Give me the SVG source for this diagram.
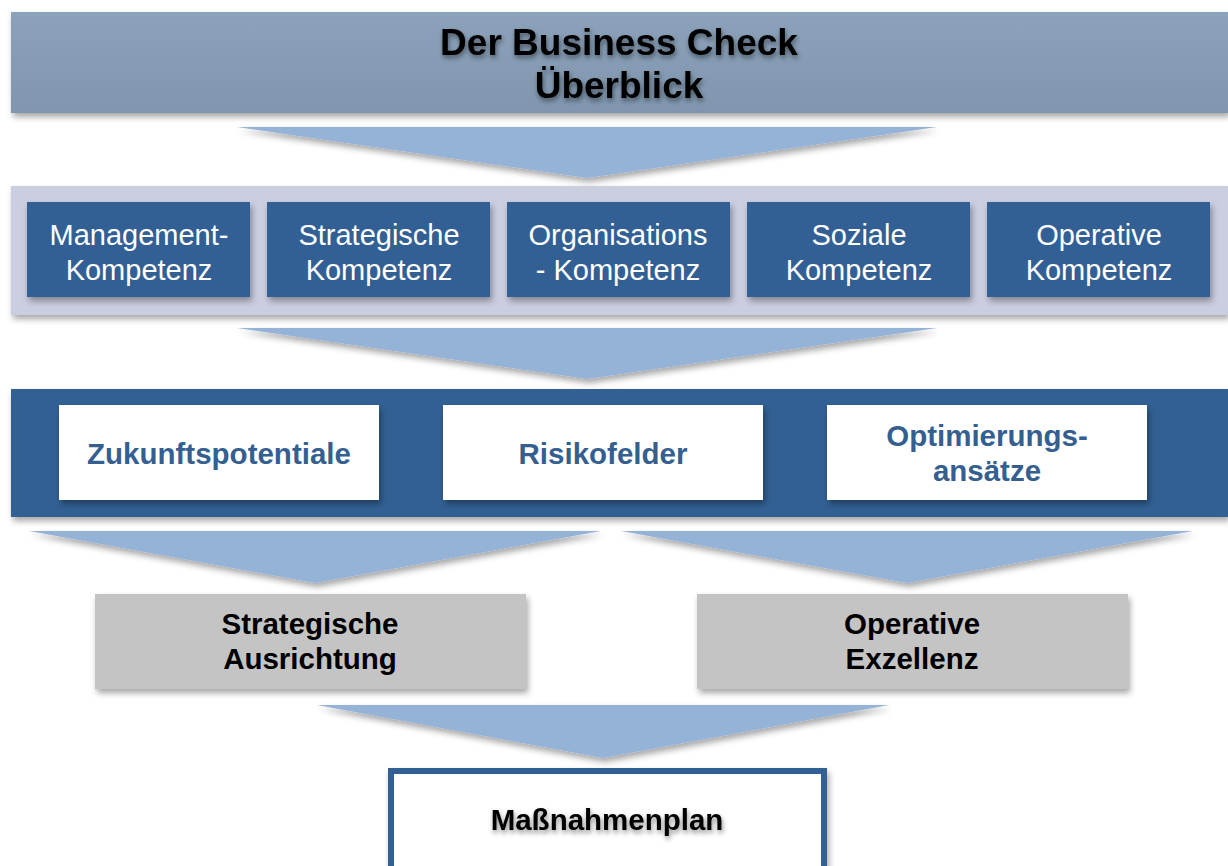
<svg xmlns="http://www.w3.org/2000/svg" width="1228" height="866" viewBox="0 0 1228 866">
<defs>
<filter id="sh" x="-5%" y="-20%" width="110%" height="150%">
<feDropShadow dx="2" dy="4" stdDeviation="3" flood-color="#000" flood-opacity="0.35"/>
</filter>
<filter id="tsh" x="-10%" y="-30%" width="120%" height="170%">
<feDropShadow dx="1" dy="3" stdDeviation="2.5" flood-color="#000" flood-opacity="0.45"/>
</filter>
<linearGradient id="gTop" x1="0" y1="0" x2="0" y2="1">
<stop offset="0" stop-color="#8ca2ba"/>
<stop offset="1" stop-color="#7f96ae"/>
</linearGradient>
<style>
.t{font-family:"Liberation Sans",Arial,sans-serif;text-anchor:middle}
.w{fill:#ffffff;font-size:29px}
.b{font-weight:bold;font-size:29.5px}
.blue{fill:#355f91}
.blk{fill:#000000}
.arr{fill:#95b3d7}
.kb{fill:#336194}
</style>
</defs>

<g id="connectors">
<polygon class="arr" filter="url(#sh)" points="237,127 937,127 587,178"/>
<polygon class="arr" filter="url(#sh)" points="237,328 937,328 587,379"/>
<polygon class="arr" filter="url(#sh)" points="29,531 601,531 315,583"/>
<polygon class="arr" filter="url(#sh)" points="621,531 1193,531 907,583"/>
<polygon class="arr" filter="url(#sh)" points="317,705 889,705 603,758"/>
</g>

<g id="title">
<rect x="11" y="12" width="1217" height="101" fill="url(#gTop)" filter="url(#sh)"/>
<text class="t" font-weight="bold" font-size="37" fill="#000" filter="url(#tsh)"><tspan x="619" y="55">Der Business Check</tspan><tspan x="619" y="98">Überblick</tspan></text>
</g>

<g id="kompetenzen">
<rect x="11" y="186" width="1217" height="129" fill="#cbcde0" filter="url(#sh)"/>
</g>
<g id="management">
<rect class="kb" x="27" y="202" width="223" height="95" filter="url(#sh)"/>
<text class="t w"><tspan x="139" y="245">Management-</tspan><tspan x="139" y="280">Kompetenz</tspan></text>
</g>
<g id="strategische">
<rect class="kb" x="267" y="202" width="223" height="95" filter="url(#sh)"/>
<text class="t w"><tspan x="379" y="245">Strategische</tspan><tspan x="379" y="280">Kompetenz</tspan></text>
</g>
<g id="organisation">
<rect class="kb" x="507" y="202" width="223" height="95" filter="url(#sh)"/>
<text class="t w"><tspan x="618" y="245">Organisations</tspan><tspan x="618" y="280">- Kompetenz</tspan></text>
</g>
<g id="soziale">
<rect class="kb" x="747" y="202" width="223" height="95" filter="url(#sh)"/>
<text class="t w"><tspan x="859" y="245">Soziale</tspan><tspan x="859" y="280">Kompetenz</tspan></text>
</g>
<g id="operative">
<rect class="kb" x="987" y="202" width="223" height="95" filter="url(#sh)"/>
<text class="t w"><tspan x="1099" y="245">Operative</tspan><tspan x="1099" y="280">Kompetenz</tspan></text>
</g>

<g id="ergebnisse">
<rect x="11" y="389" width="1217" height="128" fill="#336194" filter="url(#sh)"/>
</g>
<g id="zukunft">
<rect x="59" y="405" width="320" height="95" fill="#fff" filter="url(#sh)"/>
<text class="t b blue" x="219" y="464">Zukunftspotentiale</text>
</g>
<g id="risiko">
<rect x="443" y="405" width="320" height="95" fill="#fff" filter="url(#sh)"/>
<text class="t b blue" x="603" y="464">Risikofelder</text>
</g>
<g id="optimierung">
<rect x="827" y="405" width="320" height="95" fill="#fff" filter="url(#sh)"/>
<text class="t b blue"><tspan x="987" y="446">Optimierungs-</tspan><tspan x="987" y="481">ansätze</tspan></text>
</g>

<g id="strat-ausrichtung">
<rect x="95" y="594" width="431" height="95" fill="#c4c4c4" filter="url(#sh)"/>
<text class="t b blk"><tspan x="310" y="634">Strategische</tspan><tspan x="310" y="669">Ausrichtung</tspan></text>
</g>
<g id="op-exzellenz">
<rect x="697" y="594" width="431" height="95" fill="#c4c4c4" filter="url(#sh)"/>
<text class="t b blk"><tspan x="912" y="634">Operative</tspan><tspan x="912" y="669">Exzellenz</tspan></text>
</g>

<g id="massnahmenplan">
<rect x="391" y="771" width="433" height="110" fill="#fff" stroke="#336194" stroke-width="6" filter="url(#sh)"/>
<text class="t b blk" x="607" y="830" filter="url(#tsh)">Maßnahmenplan</text>
</g>
</svg>
